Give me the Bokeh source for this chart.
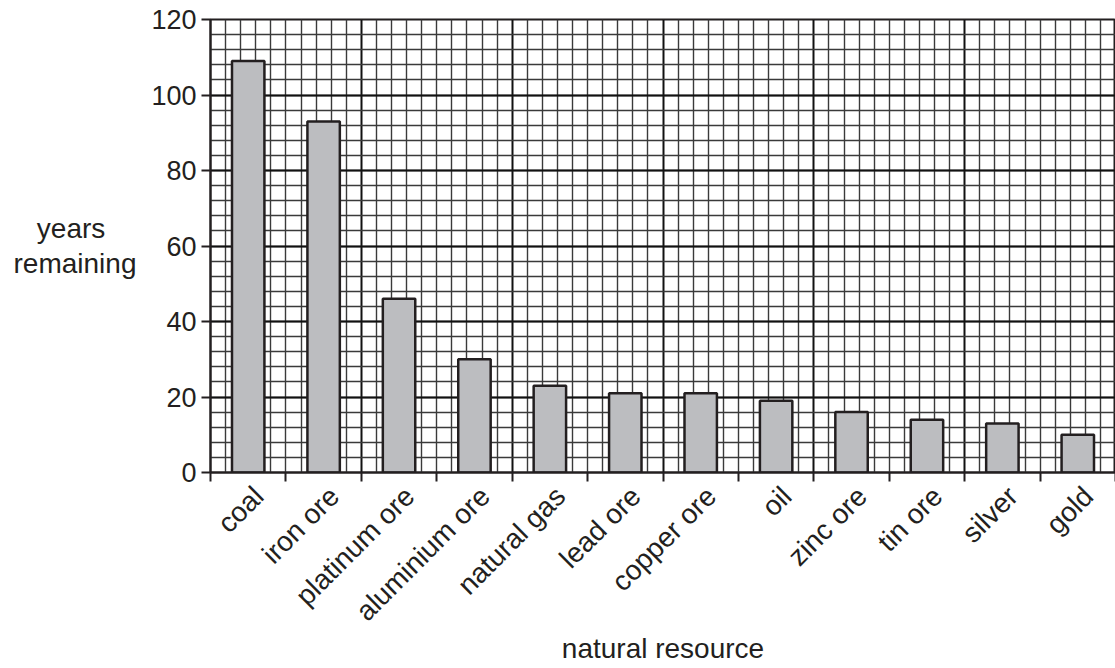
import math
from bokeh.plotting import figure
from bokeh.models import Range1d, FixedTicker, CustomJSTickFormatter
from bokeh.embed import file_html
from bokeh.resources import INLINE

# ---- data ----
resources = ["coal", "iron ore", "platinum ore", "aluminium ore", "natural gas",
             "lead ore", "copper ore", "oil", "zinc ore", "tin ore", "silver", "gold"]
years = [109, 93, 46, 30, 23, 21, 21, 19, 16, 14, 13, 10]
y_ticks = [0, 20, 40, 60, 80, 100, 120]

INK = "#231f20"
FONT = "Liberation Sans"
NB = "\u00a0"

n = len(resources)
centers = [i + 0.5 for i in range(n)]
label_shift = 0.14  # shift of rotated label anchor relative to category center

p = figure(frame_width=905, frame_height=453,
           x_range=Range1d(0, n), y_range=Range1d(0, 120),
           output_backend="svg", toolbar_location=None,
           min_border_left=210, min_border_right=0, min_border_top=19,
           min_border_bottom=10)
p.background_fill_color = "white"
p.border_fill_color = "white"
p.outline_line_color = INK
p.outline_line_width = 2

# grids
p.xgrid.ticker = FixedTicker(ticks=list(range(0, n + 1, 2)),
                             minor_ticks=[k / 5 for k in range(0, 5 * n + 1)])
p.xgrid.grid_line_color = "#111111"
p.xgrid.grid_line_width = 1.8
p.xgrid.minor_grid_line_color = "#3a3a3a"
p.xgrid.minor_grid_line_width = 1.4

p.ygrid.ticker = FixedTicker(ticks=y_ticks, minor_ticks=list(range(0, 121, 4)))
p.ygrid.grid_line_color = "#111111"
p.ygrid.grid_line_width = 1.8
p.ygrid.minor_grid_line_color = "#3a3a3a"
p.ygrid.minor_grid_line_width = 1.4

# bars
p.vbar(x=centers, top=years, width=0.43, bottom=0,
       fill_color="#bcbdc0", line_color=INK, line_width=2.5)

# x axis
xa = p.xaxis[0]
xa.ticker = FixedTicker(ticks=[c + label_shift for c in centers],
                        minor_ticks=list(range(0, n + 1)))
xa.formatter = CustomJSTickFormatter(args=dict(names=resources),
                                     code="return names[Math.floor(tick)] || '';")
xa.major_label_orientation = math.pi / 4
xa.major_tick_line_color = None
xa.major_tick_out = 0
xa.major_tick_in = 0
xa.minor_tick_out = 9
xa.minor_tick_in = 0
xa.minor_tick_line_color = INK
xa.minor_tick_line_width = 2
xa.axis_line_color = INK
xa.axis_line_width = 2
xa.major_label_standoff = 10
xa.major_label_text_font = FONT
xa.major_label_text_font_size = "28px"
xa.major_label_text_color = INK
xa.axis_label = "natural resource"
xa.axis_label_text_font = FONT
xa.axis_label_text_font_size = "28px"
xa.axis_label_text_font_style = "normal"
xa.axis_label_text_color = INK
xa.axis_label_standoff = -8

# y axis
ya = p.yaxis[0]
ya.ticker = FixedTicker(ticks=y_ticks)
ya.major_tick_out = 9
ya.major_tick_in = 0
ya.major_tick_line_color = INK
ya.major_tick_line_width = 2
ya.minor_tick_line_color = None
ya.axis_line_color = INK
ya.axis_line_width = 2
ya.major_label_standoff = 5
ya.major_label_text_font = FONT
ya.major_label_text_font_size = "27px"
ya.major_label_text_color = INK
ya.axis_label = "years" + NB * 4 + "\nremaining"
ya.axis_label_orientation = "horizontal"
ya.axis_label_text_font = FONT
ya.axis_label_text_font_size = "28px"
ya.axis_label_text_font_style = "normal"
ya.axis_label_text_color = INK
ya.axis_label_text_line_height = 1.1
ya.axis_label_standoff = 12

open("out.html", "w").write(file_html(p, INLINE))
